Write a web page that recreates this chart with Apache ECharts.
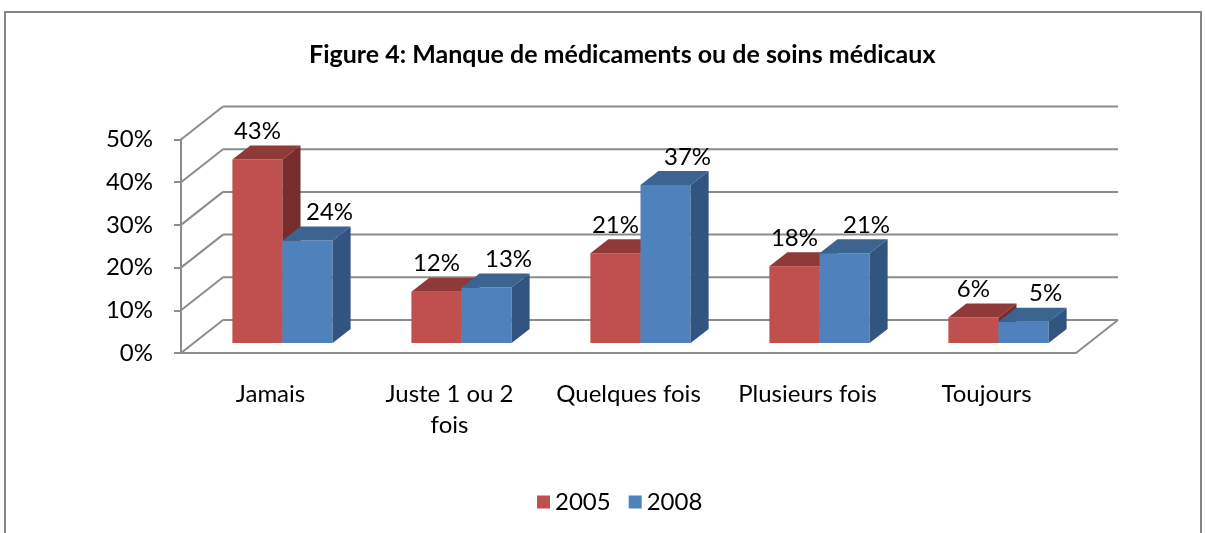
<!DOCTYPE html>
<html>
<head>
<meta charset="utf-8">
<style>
  html, body { margin: 0; padding: 0; background: #fff; }
  #main { width: 1205px; height: 533px; }
</style>
<script src="https://cdn.jsdelivr.net/npm/echarts@6/dist/echarts.min.js"></script>
</head>
<body>
<div id="main"></div>
<script>
// 数据
var categories = ['Jamais', 'Juste 1 ou 2\nfois', 'Quelques fois', 'Plusieurs fois', 'Toujours'];
var data2005 = [0.43, 0.12, 0.21, 0.18, 0.06];
var data2008 = [0.24, 0.13, 0.37, 0.21, 0.05];
var yTicks = [0, 0.1, 0.2, 0.3, 0.4, 0.5];
var seriesNames = ['2005', '2008'];

// 3D 效果参数
var WALL_DX = 42, WALL_DY = 33;   // 背景墙偏移
var BAR_DX = 12, BAR_DY = 10;     // 柱子所在平面偏移
var DEPTH_X = 18, DEPTH_Y = 14;   // 柱子厚度
var BAR_RATIO = 0.28;
var GRID_COLOR = '#8c8c8c';
var FONT = 'Lato';

var palette = [
  { front: '#C0504D', top: '#8F3A38', side: '#772D2B' },
  { front: '#4F81BD', top: '#3B6491', side: '#325480' }
];

function pct(v) { return Math.round(v * 100) + '%'; }

// 背景网格 + 侧面斜线
function renderWall(params, api) {
  var cs = params.coordSys;
  var v = api.value(1);
  var y = api.coord([0, v])[1];
  var x0 = cs.x, x1 = cs.x + cs.width;
  var st = { stroke: GRID_COLOR, lineWidth: 2 };
  var children = [
    { type: 'line', shape: { x1: x0, y1: y, x2: x0 + WALL_DX, y2: y - WALL_DY }, style: st },
    { type: 'line', shape: { x1: x0 + WALL_DX, y1: y - WALL_DY, x2: x1 + WALL_DX, y2: y - WALL_DY }, style: st }
  ];
  if (v === 0) {
    children.push({ type: 'line', shape: { x1: x1, y1: y, x2: x1 + WALL_DX, y2: y - WALL_DY }, style: st });
  }
  return { type: 'group', children: children };
}

// 立体柱子
function makeBar(idx, labelShift) {
  var col = palette[idx];
  return function (params, api) {
    var i = api.value(0), v = api.value(1);
    var base = api.coord([i, 0]);
    var topP = api.coord([i, v]);
    var bw = api.size([1, 0])[0] * BAR_RATIO;
    var left = base[0] + BAR_DX + (idx === 0 ? -bw : 0);
    var right = left + bw;
    var b = base[1] - BAR_DY, t = topP[1] - BAR_DY;
    return {
      type: 'group',
      children: [
        { type: 'rect', shape: { x: left, y: t, width: bw, height: b - t }, style: { fill: col.front } },
        { type: 'polygon', shape: { points: [[left, t], [right, t], [right + DEPTH_X, t - DEPTH_Y], [left + DEPTH_X, t - DEPTH_Y]] }, style: { fill: col.top } },
        { type: 'polygon', shape: { points: [[right, t], [right + DEPTH_X, t - DEPTH_Y], [right + DEPTH_X, b - DEPTH_Y], [right, b]] }, style: { fill: col.side } },
        { type: 'text', style: { text: pct(v), x: left + bw / 2 + labelShift, y: t - DEPTH_Y - 2, align: 'center', verticalAlign: 'bottom', fontSize: 24, fontFamily: FONT, fill: '#000' } }
      ]
    };
  };
}

var myChart = echarts.init(document.getElementById('main'));

var option = {
  animation: false,
  title: {
    text: 'Figure 4: Manque de médicaments ou de soins médicaux',
    left: 304,
    top: 37,
    textStyle: { fontFamily: FONT, fontSize: 25, fontWeight: 'bold', color: '#000' }
  },
  legend: {
    data: seriesNames,
    left: 532,
    top: 485,
    icon: 'rect',
    itemWidth: 13,
    itemHeight: 13,
    itemGap: 18,
    textStyle: { fontFamily: FONT, fontSize: 24, color: '#000' }
  },
  graphic: [
    { type: 'rect', shape: { x: 5, y: 12, width: 1196, height: 560 }, style: { fill: 'none', stroke: '#868686', lineWidth: 2 }, silent: true }
  ],
  grid: { left: 181, right: 129, top: 139.5, bottom: 180 },
  xAxis: {
    type: 'category',
    data: categories,
    axisLine: { lineStyle: { color: GRID_COLOR, width: 2 } },
    axisTick: { length: 8, interval: 0, lineStyle: { color: GRID_COLOR, width: 2 } },
    axisLabel: { interval: 0, margin: 26, fontFamily: FONT, fontSize: 24, lineHeight: 31, color: '#000' }
  },
  yAxis: {
    type: 'value',
    min: yTicks[0],
    max: yTicks[yTicks.length - 1],
    interval: 0.1,
    axisLine: { show: true, lineStyle: { color: GRID_COLOR, width: 2 } },
    axisTick: { show: true, length: 7, lineStyle: { color: GRID_COLOR, width: 2 } },
    splitLine: { show: false },
    axisLabel: { margin: 28, fontFamily: FONT, fontSize: 24, color: '#000', formatter: pct }
  },
  series: [
    {
      name: 'wall',
      type: 'custom',
      silent: true,
      clip: false,
      z: 1,
      renderItem: renderWall,
      data: yTicks.map(function (v) { return [0, v]; })
    },
    {
      name: seriesNames[0],
      type: 'custom',
      clip: false,
      z: 3,
      itemStyle: { color: palette[0].front },
      renderItem: makeBar(0, 0),
      encode: { x: 0, y: 1 },
      data: data2005.map(function (v, i) { return [i, v]; })
    },
    {
      name: seriesNames[1],
      type: 'custom',
      clip: false,
      z: 4,
      itemStyle: { color: palette[1].front },
      renderItem: makeBar(1, 22),
      encode: { x: 0, y: 1 },
      data: data2008.map(function (v, i) { return [i, v]; })
    }
  ]
};

myChart.setOption(option);

window.addEventListener('resize', function () {
  myChart.resize();
});
</script>
</body>
</html>
